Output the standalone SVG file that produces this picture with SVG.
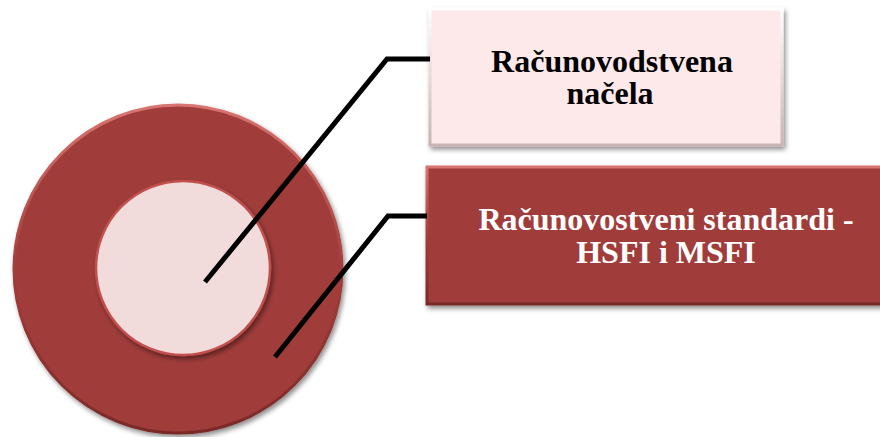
<svg xmlns="http://www.w3.org/2000/svg" width="880" height="437" viewBox="0 0 880 437">
  <defs>
    <filter id="shadow" x="-10%" y="-10%" width="130%" height="130%">
      <feGaussianBlur in="SourceAlpha" stdDeviation="2.5"/>
      <feOffset dx="2" dy="3" result="b"/>
      <feComponentTransfer><feFuncA type="linear" slope="0.45"/></feComponentTransfer>
      <feMerge><feMergeNode/><feMergeNode in="SourceGraphic"/></feMerge>
    </filter>
    <linearGradient id="rimRed" x1="0" y1="0" x2="0" y2="1">
      <stop offset="0" stop-color="#d97471"/>
      <stop offset="0.5" stop-color="#a33d3b"/>
      <stop offset="1" stop-color="#7a2a28"/>
    </linearGradient>
    <linearGradient id="rimPink" x1="0" y1="0" x2="0" y2="1">
      <stop offset="0" stop-color="#ffffff"/>
      <stop offset="1" stop-color="#c9b3b3"/>
    </linearGradient>
    <style>
      .txt { font-family: "Liberation Serif", "Times New Roman", serif; font-weight: bold; font-size: 32px; text-anchor: middle; }
      .conn { fill: none; stroke: #000000; stroke-width: 5; stroke-linejoin: miter; }
    </style>
  </defs>

  <g id="outer-circle">
    <circle cx="178" cy="269" r="164" fill="#a03c3b" stroke="url(#rimRed)" stroke-width="3" filter="url(#shadow)"/>
  </g>
  <g id="inner-circle">
    <circle cx="183" cy="268" r="87" fill="#f2dcdb" stroke="#c0504d" stroke-width="2.5" filter="url(#shadow)"/>
  </g>

  <g id="box-nacela">
    <rect x="430" y="9" width="352" height="136" fill="#fde9e9" stroke="url(#rimPink)" stroke-width="3" filter="url(#shadow)"/>
    <text class="txt" x="612" y="72" fill="#000000">Računovodstvena</text>
    <text class="txt" x="610" y="104" fill="#000000">načela</text>
  </g>

  <g id="box-standardi">
    <rect x="427" y="167" width="460" height="137" fill="#a03c3b" stroke="url(#rimRed)" stroke-width="3" filter="url(#shadow)"/>
    <text class="txt" x="666" y="230" fill="#ffffff">Računovostveni standardi -</text>
    <text class="txt" x="666" y="263" fill="#ffffff">HSFI i MSFI</text>
  </g>

  <g id="connectors">
    <polyline class="conn" points="205,282 387,59 430,59"/>
    <polyline class="conn" points="275,357 388,216 427,216"/>
  </g>
</svg>
